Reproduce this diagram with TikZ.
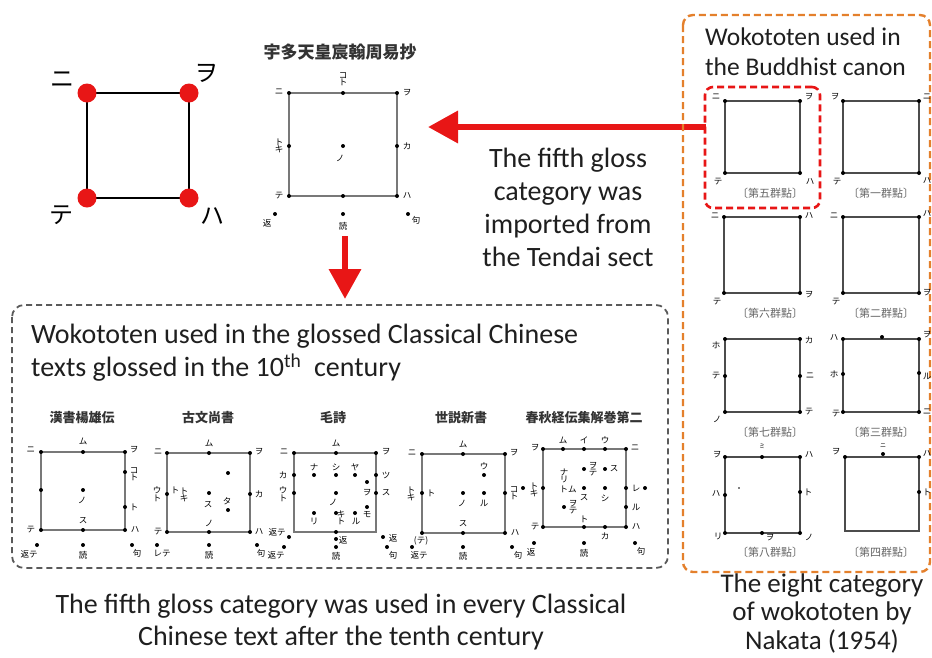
\documentclass[tikz,border=0pt]{standalone}
\usepackage{fontspec}
\setmainfont{Carlito}
\newfontfamily\jp{Noto Sans CJK JP}
\usetikzlibrary{arrows.meta}
\definecolor{myred}{RGB}{232,22,22}
\definecolor{myorange}{RGB}{228,128,44}
\definecolor{mygray}{RGB}{90,90,90}
\definecolor{sqgray}{RGB}{120,120,120}
\newcommand\gdots[1]{\foreach \p in {#1} \fill (\p) circle (2);}
\begin{document}
\begin{tikzpicture}[x=1pt,y=-1pt,
  maintxt/.style={font=\fontsize{28}{33}\selectfont, align=center, inner sep=0, text=black!88},
  kl/.style={font=\jp\fontsize{8.5}{7.5}\selectfont, inner sep=0, align=center},
  ttl/.style={font=\jp\bfseries\fontsize{13}{13}\selectfont, inner sep=0, text=black!80},
  pl/.style={font=\jp\fontsize{11}{11}\selectfont, inner sep=0, text=black!60},
  sqs/.style={draw=sqgray, line width=1.4},
  psq/.style={draw=black!70, line width=1.3},
  bigk/.style={font=\jp\fontsize{24}{24}\selectfont, inner sep=0},
  redarrow/.style={draw=myred, line width=6.5, -{Triangle[length=30pt,width=31pt]}}
]
\useasboundingbox (0,0) rectangle (932,657);
\fill[white] (0,0) rectangle (932,657);

% ---------- big top-left diagram ----------
\draw[line width=2.6] (87,93) rectangle (189,198);
\foreach \p in {(87,93),(189,93),(87,198),(189,198)} \fill[myred] \p circle (9.5);
\node[bigk] (bn) at (62,80) {ニ};
\node[bigk] (bw) at (206,73) {ヲ};
\node[bigk] (bt) at (61,215) {テ};
\node[bigk] (bh) at (212,216) {ハ};

% ---------- top centre diagram ----------
\node[ttl, font=\jp\bfseries\fontsize{17}{17}\selectfont] (t0) at (340,52) {宇多天皇宸翰周易抄};
\draw[sqs, line width=1.8] (289,93) rectangle (397,196);
\gdots{{289,93},{343,93},{397,93},{289,146},{343,146},{397,146},{289,196},{343,196},{397,196},{275,214},{343,214},{408,214}}
\begin{scope}[every node/.append style={font=\jp\fontsize{10}{9}\selectfont}]
\node[kl] (t1) at (279,92) {ニ};
\node[kl] (t2) at (343,79) {コ\\ト};
\node[kl] (t3) at (407,93) {ヲ};
\node[kl] (t4) at (279,146) {ト\\キ};
\node[kl] (t5) at (407,146) {カ};
\node[kl] (t6) at (340,158) {ノ};
\node[kl] (t7) at (279,196) {テ};
\node[kl] (t8) at (407,196) {ハ};
\node[kl] (t9) at (267,223) {返};
\node[kl] (t10) at (343,226) {読};
\node[kl] (t11) at (416,220) {句};
\end{scope}

% ---------- arrows ----------
\coordinate (a1s) at (706,127);
\coordinate (a1e) at (428,127);
\draw[redarrow] (a1s) -- (a1e);
\coordinate (a2s) at (345,236);
\coordinate (a2e) at (345,299);
\draw[redarrow] (a2s) -- (a2e);

\node[maintxt] (mid) at (568,207) {The fifth gloss\\category was\\imported from\\the Tendai sect};

% ---------- bottom-left box ----------
\draw[draw=mygray, line width=1.8, dash pattern=on 6pt off 4pt, rounded corners=12] (12,305) rectangle (668,568);
\node[maintxt, align=left, anchor=west] (boxtxt) at (31,353) {Wokototen used in the glossed Classical Chinese\\texts glossed in the 10\textsuperscript{th}\ \ century};
\node[maintxt, font=\fontsize{28}{32}\selectfont] (bottxt) at (341,622) {The fifth gloss category was used in every Classical\\Chinese text after the tenth century};

% D1
\node[ttl] (d1) at (82,418) {漢書楊雄伝};
\draw[sqs] (41,452) rectangle (125,530);
\gdots{{41,452},{83,452},{125,452},{41,490},{83,490},{125,472},{125,507},{41,530},{83,530},{125,530},{37,545},{83,545},{132,545}}
\node[kl] at (31,450) {ニ};
\node[kl] at (83,441) {ム};
\node[kl] at (134,450) {ヲ};
\node[kl] at (134,474) {コ\\ト};
\node[kl] at (134,507) {ト};
\node[kl] at (82,500) {ノ};
\node[kl] at (83,521) {ス};
\node[kl] at (31,530) {テ};
\node[kl] at (135,530) {ハ};
\node[kl] at (29,554) {返テ};
\node[kl] at (83,555) {読};
\node[kl] at (137,553) {句};

% D2
\node[ttl] (d2) at (208,418) {古文尚書};
\draw[sqs] (167,453) rectangle (250,532);
\gdots{{167,453},{209,453},{250,453},{167,494},{250,494},{228,473},{209,493},{228,510},{167,532},{209,532},{250,532},{157,545},{209,545},{257,545}}
\node[kl] at (158,452) {ニ};
\node[kl] at (209,443) {ム};
\node[kl] at (259,452) {ヲ};
\node[kl] at (157,494) {ウ\\ト};
\node[kl] at (175,490) {ト};
\node[kl] at (184,495) {ト\\キ};
\node[kl] at (259,494) {カ};
\node[kl] at (208,505) {ス};
\node[kl] at (227,501) {タ};
\node[kl] at (209,523) {ノ};
\node[kl] at (158,532) {テ};
\node[kl] at (259,532) {ハ};
\node[kl] at (162,554) {レテ};
\node[kl] at (209,555) {読};
\node[kl] at (261,553) {句};

% D3
\node[ttl] (d3) at (333,418) {毛詩};
\draw[sqs] (294,453) rectangle (376,532);
\gdots{{294,453},{336,453},{376,453},{294,475},{294,493},{376,475},{376,493},{314,475},{336,475},{355,475},{367,482},{336,493},{314,513},{336,513},{355,513},{367,507},{336,532},{336,539},{336,547},{289,537},{284,547},{383,537},{387,547}}
\node[kl] at (284,452) {ニ};
\node[kl] at (336,443) {ム};
\node[kl] at (386,452) {ヲ};
\node[kl] at (283,475) {カ};
\node[kl] at (283,494) {ウ\\ト};
\node[kl] at (386,475) {ツ};
\node[kl] at (386,493) {ス};
\node[kl] at (314,467) {ナ};
\node[kl] at (336,467) {シ};
\node[kl] at (355,467) {ヤ};
\node[kl] at (367,493) {ヲ};
\node[kl] at (333,502) {ノ};
\node[kl] at (314,521) {リ};
\node[kl] at (341,518) {キ\\ト};
\node[kl] at (356,521) {ル};
\node[kl] at (367,515) {モ};
\node[kl] at (343,540) {返};
\node[kl] at (277,532) {返テ};
\node[kl] at (276,555) {返テ};
\node[kl] at (393,538) {返};
\node[kl] at (393,555) {句};
\node[kl] at (336,556) {読};

% D4
\node[ttl] (d4) at (461,418) {世説新書};
\draw[sqs] (422,454) rectangle (505,533);
\gdots{{422,454},{463,454},{505,454},{422,493},{505,493},{484,475},{463,493},{484,493},{422,533},{463,533},{505,533},{412,547},{463,547},{512,547}}
\node[kl] at (412,453) {ニ};
\node[kl] at (463,444) {ム};
\node[kl] at (514,453) {ヲ};
\node[kl] at (411,494) {ト\\キ};
\node[kl] at (431,493) {ト};
\node[kl] at (514,493) {コ\\ト};
\node[kl] at (484,466) {ウ};
\node[kl] at (462,503) {ノ};
\node[kl] at (484,503) {ル};
\node[kl] at (463,524) {ス};
\node[kl] at (515,533) {ハ};
\node[kl] at (421,541) {(テ)};
\node[kl] at (419,555) {返テ};
\node[kl] at (463,556) {読};
\node[kl] at (518,555) {句};

% D5
\node[ttl] (d5) at (584,417) {春秋経伝集解巻第二};
\draw[sqs] (543,449) rectangle (626,527);
\gdots{{543,449},{563,449},{584,449},{605,449},{626,449},{523,488},{543,488},{626,488},{645,488},{584,469},{605,469},{584,488},{605,488},{564,507},{626,507},{543,527},{584,527},{605,527},{626,527},{534,543},{584,543},{635,543}}
\node[kl] at (535,448) {ヲ};
\node[kl] at (563,440) {ム};
\node[kl] at (584,440) {イ};
\node[kl] at (605,440) {ウ};
\node[kl] at (635,448) {ニ};
\node[kl] at (534,490) {ト\\キ};
\node[kl] at (564,476) {ナ\\リ};
\node[kl] at (568,489) {トム};
\node[kl] at (593,469) {ヲ\\テ};
\node[kl] at (614,469) {ス};
\node[kl] at (584,498) {ス};
\node[kl] at (605,498) {シ};
\node[kl] at (636,488) {レ};
\node[kl] at (636,507) {ル};
\node[kl] at (573,507) {ヲ\\テ};
\node[kl] at (584,519) {ト};
\node[kl] at (605,536) {カ};
\node[kl] at (535,527) {テ};
\node[kl] at (636,527) {ハ};
\node[kl] at (531,552) {返};
\node[kl] at (584,553) {読};
\node[kl] at (641,551) {句};

% ---------- right panel ----------
\draw[draw=myorange, line width=2.4, dash pattern=on 7pt off 4pt, rounded corners=10] (683,15) rectangle (930,572);
\node[maintxt, align=left, anchor=west, font=\fontsize{25.5}{30}\selectfont] (rtxt) at (705,52) {Wokototen used in\\the Buddhist canon};
\node[maintxt, font=\fontsize{27}{28.5}\selectfont] (rbot) at (822,613) {The eight category\\of wokototen by\\Nakata (1954)};
\node[draw=myred, line width=2.6, dash pattern=on 7pt off 4pt, rounded corners=8, minimum width=115pt, minimum height=121pt, inner sep=0] (sel) at (762.5,147.5) {};

% row 1
\draw[psq] (725,101) rectangle (800,173);
\draw[psq] (843,101) rectangle (919,173);
\gdots{{725,101},{800,101},{725,173},{800,173},{843,101},{919,101},{843,173},{919,173}}
\node[kl] at (716,97) {ニ};
\node[kl] at (809,97) {ヲ};
\node[kl] at (718,182) {テ};
\node[kl] at (810,182) {ハ};
\node[kl] at (835,97) {ヲ};
\node[kl] at (927,97) {ニ};
\node[kl] at (837,182) {テ};
\node[kl] at (927,181) {ハ};
\node[pl] (p5) at (770,193) {〔第五群點〕};
\node[pl] (p1) at (881,193) {〔第一群點〕};

% row 2
\draw[psq] (724,217) rectangle (800,293);
\draw[psq] (843,217) rectangle (919,293);
\gdots{{724,217},{800,217},{724,293},{800,293},{843,217},{919,217},{843,293},{919,293}}
\node[kl] at (715,216) {ニ};
\node[kl] at (809,216) {ハ};
\node[kl] at (717,302) {テ};
\node[kl] at (809,295) {ヲ};
\node[kl] at (834,216) {ニ};
\node[kl] at (927,214) {ハ};
\node[kl] at (836,302) {テ};
\node[kl] at (927,293) {ヲ};
\node[pl] (p6) at (770,313) {〔第六群點〕};
\node[pl] (p2) at (881,313) {〔第二群點〕};

% row 3
\draw[psq] (725,339) rectangle (800,412);
\draw[psq] (843,339) rectangle (919,412);
\gdots{{725,339},{800,339},{725,412},{800,412},{725,376},{800,376},{843,339},{919,339},{843,412},{919,412},{882,337},{843,374},{919,373}}
\node[kl] at (716,345) {ホ};
\node[kl] at (809,340) {カ};
\node[kl] at (716,376) {テ};
\node[kl] at (810,376) {ニ};
\node[kl] at (717,419) {ノ};
\node[kl] at (809,412) {テ};
\node[kl] at (834,338) {ハ};
\node[kl] at (927,335) {ヲ};
\node[kl] at (834,374) {ホ};
\node[kl] at (927,376) {ル};
\node[kl] at (836,414) {テ};
\node[kl] at (927,412) {ニ};
\node[pl] (p7) at (770,432) {〔第七群點〕};
\node[pl] (p3) at (881,432) {〔第三群點〕};

% row 4
\draw[psq] (725,457) rectangle (800,533);
\draw[psq] (845,457) rectangle (919,531);
\gdots{{725,457},{762,457},{800,457},{725,495},{800,492},{725,533},{762,533},{800,533},{845,457},{883,454},{919,457},{919,492}}
\fill (739,488) circle (0.8);
\node[kl] at (717,455) {ヲ};
\node[kl, font=\jp\fontsize{6}{6}\selectfont] at (762,446) {ミ};
\node[kl] at (809,455) {ハ};
\node[kl] at (716,494) {ハ};
\node[kl] at (808,492) {ト};
\node[kl] at (718,536) {リ};
\node[kl] at (770,538) {ヲ};
\node[kl] at (809,537) {ノ};
\node[kl] at (836,452) {ヲ};
\node[kl, font=\jp\fontsize{6}{6}\selectfont] at (883,446) {ニ};
\node[kl] at (927,454) {ハ};
\node[kl] at (927,492) {ト};
\node[pl] (p8) at (770,552) {〔第八群點〕};
\node[pl] (p4) at (881,552) {〔第四群點〕};
\end{tikzpicture}
\end{document}
